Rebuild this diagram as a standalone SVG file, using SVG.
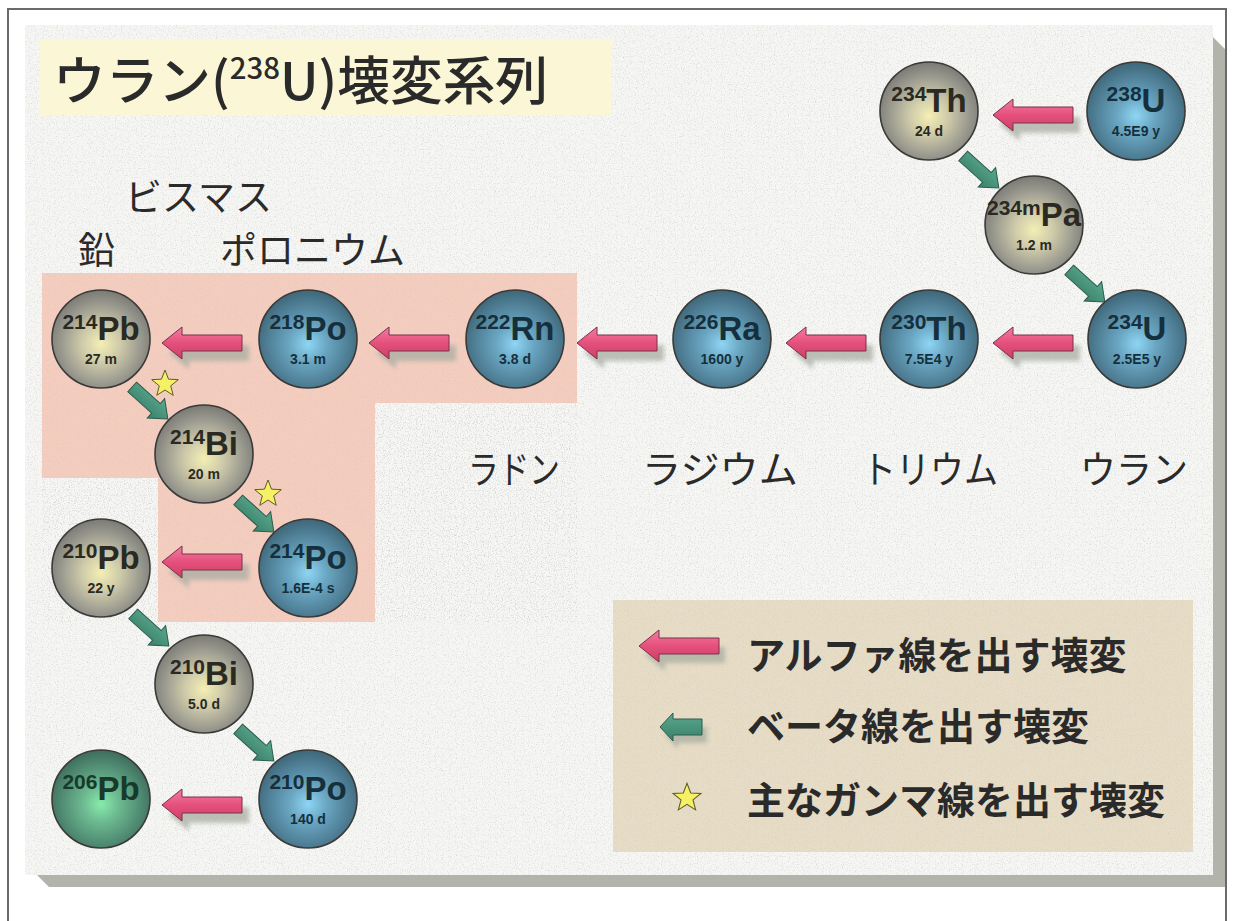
<svg xmlns="http://www.w3.org/2000/svg" xmlns:xlink="http://www.w3.org/1999/xlink" width="1234" height="921" viewBox="0 0 1234 921">
<style>
.jp{font-family:"Noto Sans CJK JP","Noto Sans",sans-serif;fill:#2a2a2a}
.nm{font-family:"Liberation Sans",Arial,sans-serif;font-weight:bold;text-anchor:middle}
.hl{font-family:"Liberation Sans",Arial,sans-serif;font-weight:bold;font-size:14px;text-anchor:middle}
.g .nm,.g .hl{fill:#2a2a22}
.b .nm,.b .hl{fill:#15303c}
.gr .nm{fill:#173a2a}
.ring{stroke:#3a3a38;stroke-width:1.6}
.alpha{fill:url(#pinkG);stroke:#7a3048;stroke-width:1}
.ashadow{fill:#a9ada2;opacity:.75}
.beta{fill:url(#tealG);stroke:#2d5a4c;stroke-width:1}
.star{fill:#f6f064;stroke:#5e5a2a;stroke-width:1}
</style>
<defs>
<filter id="speck" x="0" y="0" width="100%" height="100%">
<feTurbulence type="fractalNoise" baseFrequency="0.85" numOctaves="2" seed="4"/>
<feColorMatrix type="matrix" values="0 0 0 0 0.5  0 0 0 0 0.5  0 0 0 0 0.48  1.6 0 0 0 -0.8"/>
</filter>
<filter id="blur2" x="-20%" y="-40%" width="140%" height="180%"><feGaussianBlur stdDeviation="2"/></filter>
<radialGradient id="grayG" cx="50%" cy="55%" r="55%">
<stop offset="0" stop-color="#f4efb4"/><stop offset="0.35" stop-color="#cfcbaa"/><stop offset="0.75" stop-color="#99988e"/><stop offset="1" stop-color="#7a7a74"/>
</radialGradient>
<radialGradient id="blueG" cx="50%" cy="55%" r="55%">
<stop offset="0" stop-color="#8ed6f4"/><stop offset="0.35" stop-color="#6aa6c2"/><stop offset="0.75" stop-color="#4f7f96"/><stop offset="1" stop-color="#3e6678"/>
</radialGradient>
<radialGradient id="greenG" cx="50%" cy="55%" r="55%">
<stop offset="0" stop-color="#86ecaa"/><stop offset="0.35" stop-color="#6cb890"/><stop offset="0.75" stop-color="#4f8a72"/><stop offset="1" stop-color="#3e6c5c"/>
</radialGradient>
<linearGradient id="pinkG" x1="0" y1="0" x2="0" y2="1">
<stop offset="0" stop-color="#f27ea2"/><stop offset="0.5" stop-color="#e5507c"/><stop offset="1" stop-color="#cc4066"/>
</linearGradient>
<linearGradient id="tealG" x1="0" y1="0" x2="0" y2="1">
<stop offset="0" stop-color="#5aa88e"/><stop offset="1" stop-color="#3a806a"/>
</linearGradient>
<path id="aArrow" d="M0,0 L20,-16 L20,-8 L80,-8 L80,8 L20,8 L20,16 Z"/>
<path id="bArrow" d="M-24,-6.5 L8,-6.5 L8,-13 L24,0 L8,13 L8,6.5 L-24,6.5 Z"/>
<path id="bArrowL" d="M0,0 L13,-14 L13,-8 L42,-8 L42,8 L13,8 L13,14 Z"/>
<path id="star" d="M0,-14 L3.53,-4.85 L13.31,-4.33 L5.71,1.85 L8.23,11.33 L0,6 L-8.23,11.33 L-5.71,1.85 L-13.31,-4.33 L-3.53,-4.85 Z"/>
</defs>

<!-- page frame -->
<rect x="0" y="0" width="1234" height="921" fill="#ffffff"/>
<rect x="8" y="9" width="1218" height="930" fill="none" stroke="#6a6a6a" stroke-width="2"/>

<!-- panel with shadow -->
<g id="panel">
<polygon points="37,875 1213,875 1213,37 1225,49 1225,887 49,887" fill="#b2b3aa"/>
<rect x="25" y="25" width="1188" height="850" fill="#f6f6f4"/>
<rect x="25" y="25" width="1188" height="850" filter="url(#speck)" opacity="0.8"/>
</g>

<!-- highlighted region -->
<g id="highlight">
<path d="M42,273 H577 V403 H375 V622 H158 V478 H42 Z" fill="#f4cdbf"/>
<path d="M42,273 H577 V403 H375 V622 H158 V478 H42 Z" filter="url(#speck)" opacity="0.45"/>
</g>

<!-- title -->
<g id="title">
<rect x="40" y="39" width="571" height="76" fill="#fbf6d6"/>
<text class="jp" x="53" y="100" font-size="52" font-weight="500" fill="#2a2a2a" textLength="495" lengthAdjust="spacingAndGlyphs">ウラン(<tspan font-size="29" dy="-21">238</tspan><tspan dy="21">U)壊変系列</tspan></text>
</g>

<!-- element names -->
<g id="labels" class="jp">
<text class="jp" x="125" y="211" font-size="37">ビスマス</text>
<text class="jp" x="78" y="264" font-size="37">鉛</text>
<text class="jp" x="220" y="264" font-size="37">ポロニウム</text>
<text class="jp" x="468" y="483" font-size="38" textLength="92" lengthAdjust="spacingAndGlyphs">ラドン</text>
<text class="jp" x="642" y="483" font-size="38" textLength="156" lengthAdjust="spacingAndGlyphs">ラジウム</text>
<text class="jp" x="862" y="483" font-size="38" textLength="136" lengthAdjust="spacingAndGlyphs">トリウム</text>
<text class="jp" x="1080" y="483" font-size="38" textLength="108" lengthAdjust="spacingAndGlyphs">ウラン</text>
</g>

<!-- connectors -->
<g id="connectors">
<!-- alpha decays -->
<g transform="translate(993,115)"><use href="#aArrow" class="ashadow" transform="translate(7,10)" filter="url(#blur2)"/><use href="#aArrow" class="alpha"/></g>
<g transform="translate(993,343)"><use href="#aArrow" class="ashadow" transform="translate(7,10)" filter="url(#blur2)"/><use href="#aArrow" class="alpha"/></g>
<g transform="translate(786,343)"><use href="#aArrow" class="ashadow" transform="translate(7,10)" filter="url(#blur2)"/><use href="#aArrow" class="alpha"/></g>
<g transform="translate(577,343)"><use href="#aArrow" class="ashadow" transform="translate(7,10)" filter="url(#blur2)"/><use href="#aArrow" class="alpha"/></g>
<g transform="translate(369,343)"><use href="#aArrow" class="ashadow" transform="translate(7,10)" filter="url(#blur2)"/><use href="#aArrow" class="alpha"/></g>
<g transform="translate(162,343)"><use href="#aArrow" class="ashadow" transform="translate(7,10)" filter="url(#blur2)"/><use href="#aArrow" class="alpha"/></g>
<g transform="translate(162,562)"><use href="#aArrow" class="ashadow" transform="translate(7,10)" filter="url(#blur2)"/><use href="#aArrow" class="alpha"/></g>
<g transform="translate(162,805)"><use href="#aArrow" class="ashadow" transform="translate(7,10)" filter="url(#blur2)"/><use href="#aArrow" class="alpha"/></g>
<!-- beta decays -->
<use href="#bArrow" class="beta" transform="translate(981,172) rotate(42)"/>
<use href="#bArrow" class="beta" transform="translate(1087,286) rotate(42)"/>
<use href="#bArrow" class="beta" transform="translate(150,403) rotate(42)"/>
<use href="#bArrow" class="beta" transform="translate(256,516) rotate(42)"/>
<use href="#bArrow" class="beta" transform="translate(151,630) rotate(42)"/>
<use href="#bArrow" class="beta" transform="translate(256,745) rotate(42)"/>
<!-- gamma stars -->
<use href="#star" class="star" transform="translate(165,384)"/>
<use href="#star" class="star" transform="translate(268,494)"/>
</g>

<!-- nodes -->
<g id="n238U" class="b"><circle class="ring" cx="1136" cy="111" r="49" fill="url(#blueG)"/><text class="nm" x="1136" y="112"><tspan font-size="21" dy="-11">238</tspan><tspan font-size="33" dy="11">U</tspan></text><text class="hl" x="1136" y="136">4.5E9 y</text></g>
<g id="n234Th" class="g"><circle class="ring" cx="929" cy="111" r="49" fill="url(#grayG)"/><text class="nm" x="929" y="112"><tspan font-size="21" dy="-11">234</tspan><tspan font-size="33" dy="11">Th</tspan></text><text class="hl" x="929" y="136">24 d</text></g>
<g id="n234mPa" class="g"><circle class="ring" cx="1034" cy="225" r="49" fill="url(#grayG)"/><text class="nm" x="1034" y="226"><tspan font-size="21" dy="-11">234m</tspan><tspan font-size="33" dy="11">Pa</tspan></text><text class="hl" x="1034" y="250">1.2 m</text></g>
<g id="n234U" class="b"><circle class="ring" cx="1137" cy="339" r="49" fill="url(#blueG)"/><text class="nm" x="1137" y="340"><tspan font-size="21" dy="-11">234</tspan><tspan font-size="33" dy="11">U</tspan></text><text class="hl" x="1137" y="364">2.5E5 y</text></g>
<g id="n230Th" class="b"><circle class="ring" cx="929" cy="339" r="49" fill="url(#blueG)"/><text class="nm" x="929" y="340"><tspan font-size="21" dy="-11">230</tspan><tspan font-size="33" dy="11">Th</tspan></text><text class="hl" x="929" y="364">7.5E4 y</text></g>
<g id="n226Ra" class="b"><circle class="ring" cx="722" cy="339" r="49" fill="url(#blueG)"/><text class="nm" x="722" y="340"><tspan font-size="21" dy="-11">226</tspan><tspan font-size="33" dy="11">Ra</tspan></text><text class="hl" x="722" y="364">1600 y</text></g>
<g id="n222Rn" class="b"><circle class="ring" cx="515" cy="339" r="49" fill="url(#blueG)"/><text class="nm" x="515" y="340"><tspan font-size="21" dy="-11">222</tspan><tspan font-size="33" dy="11">Rn</tspan></text><text class="hl" x="515" y="364">3.8 d</text></g>
<g id="n218Po" class="b"><circle class="ring" cx="308" cy="339" r="49" fill="url(#blueG)"/><text class="nm" x="308" y="340"><tspan font-size="21" dy="-11">218</tspan><tspan font-size="33" dy="11">Po</tspan></text><text class="hl" x="308" y="364">3.1 m</text></g>
<g id="n214Pb" class="g"><circle class="ring" cx="101" cy="339" r="49" fill="url(#grayG)"/><text class="nm" x="101" y="340"><tspan font-size="21" dy="-11">214</tspan><tspan font-size="33" dy="11">Pb</tspan></text><text class="hl" x="101" y="364">27 m</text></g>
<g id="n214Bi" class="g"><circle class="ring" cx="204" cy="454" r="49" fill="url(#grayG)"/><text class="nm" x="204" y="455"><tspan font-size="21" dy="-11">214</tspan><tspan font-size="33" dy="11">Bi</tspan></text><text class="hl" x="204" y="479">20 m</text></g>
<g id="n214Po" class="b"><circle class="ring" cx="308" cy="568" r="49" fill="url(#blueG)"/><text class="nm" x="308" y="569"><tspan font-size="21" dy="-11">214</tspan><tspan font-size="33" dy="11">Po</tspan></text><text class="hl" x="308" y="593">1.6E-4 s</text></g>
<g id="n210Pb" class="g"><circle class="ring" cx="101" cy="568" r="49" fill="url(#grayG)"/><text class="nm" x="101" y="569"><tspan font-size="21" dy="-11">210</tspan><tspan font-size="33" dy="11">Pb</tspan></text><text class="hl" x="101" y="593">22 y</text></g>
<g id="n210Bi" class="g"><circle class="ring" cx="204" cy="684" r="49" fill="url(#grayG)"/><text class="nm" x="204" y="685"><tspan font-size="21" dy="-11">210</tspan><tspan font-size="33" dy="11">Bi</tspan></text><text class="hl" x="204" y="709">5.0 d</text></g>
<g id="n210Po" class="b"><circle class="ring" cx="308" cy="799" r="49" fill="url(#blueG)"/><text class="nm" x="308" y="800"><tspan font-size="21" dy="-11">210</tspan><tspan font-size="33" dy="11">Po</tspan></text><text class="hl" x="308" y="824">140 d</text></g>
<g id="n206Pb" class="gr"><circle class="ring" cx="101" cy="799" r="49" fill="url(#greenG)"/><text class="nm" x="101" y="800"><tspan font-size="21" dy="-11">206</tspan><tspan font-size="33" dy="11">Pb</tspan></text></g>

<!-- legend -->
<g id="legend">
<rect x="613" y="600" width="580" height="252" fill="#e7dcc5"/>
<rect x="613" y="600" width="580" height="252" filter="url(#speck)" opacity="0.5"/>
<g transform="translate(639,646)"><use href="#aArrow" class="ashadow" transform="translate(6,9)" filter="url(#blur2)"/><use href="#aArrow" class="alpha"/></g>
<g transform="translate(660,727)"><use href="#bArrowL" class="ashadow" transform="translate(5,8)" filter="url(#blur2)"/><use href="#bArrowL" class="beta"/></g>
<use href="#star" class="star" transform="translate(687,798) scale(1.05)"/>
<text class="jp" x="747" y="669" font-size="38" font-weight="bold" fill="#333">アルファ線を出す壊変</text>
<text class="jp" x="747" y="740" font-size="38" font-weight="bold" fill="#333">ベータ線を出す壊変</text>
<text class="jp" x="747" y="814" font-size="38" font-weight="bold" fill="#333">主なガンマ線を出す壊変</text>
</g>
</svg>
